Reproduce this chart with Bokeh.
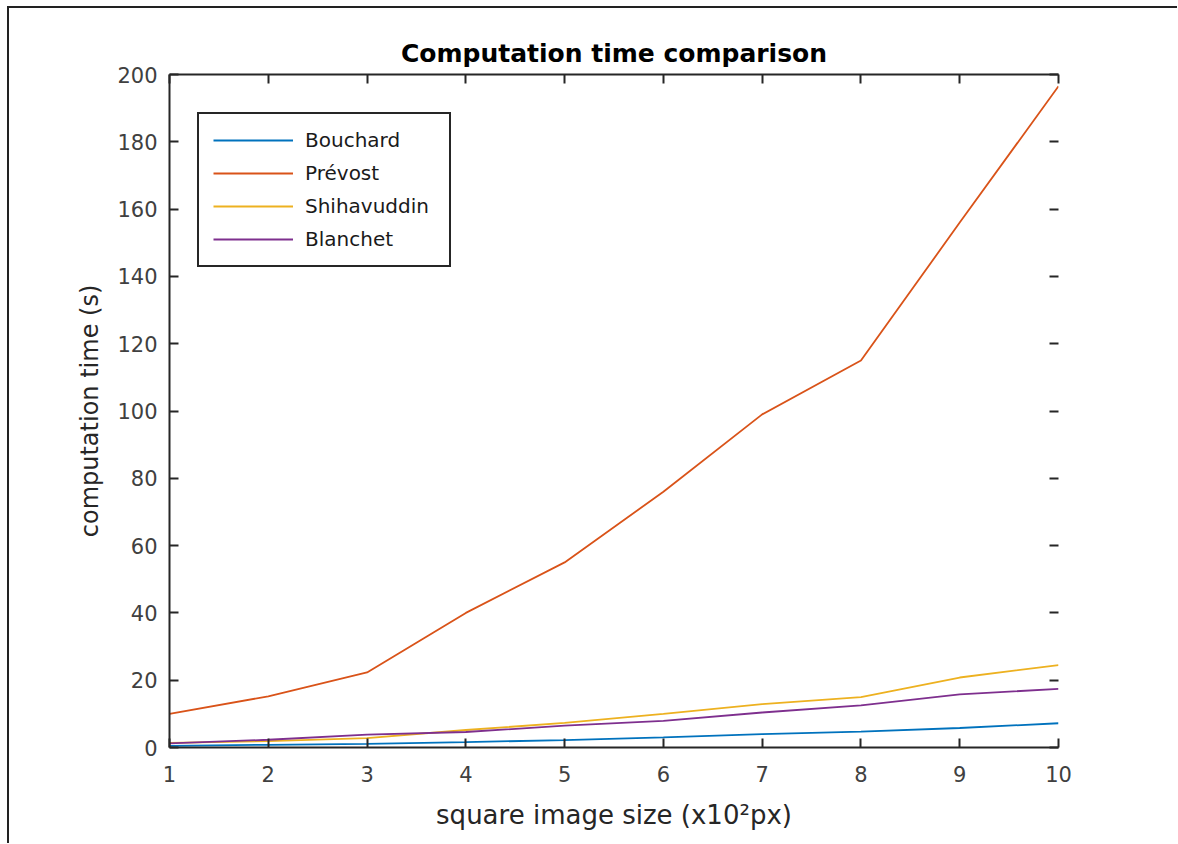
from bokeh.plotting import figure
from bokeh.models import LinearAxis, FixedTicker, Range1d, Legend, LegendItem
from bokeh.embed import file_html
from bokeh.resources import INLINE

# ---- data ----
image_size = [1, 2, 3, 4, 5, 6, 7, 8, 9, 10]
bouchard = [0.5, 0.8, 1.1, 1.6, 2.2, 3.0, 4.0, 4.7, 5.8, 7.2]
prevost = [10.0, 15.2, 22.3, 40.0, 55.0, 76.0, 99.0, 115.0, 156.0, 196.5]
shihavuddin = [1.4, 1.9, 2.8, 5.2, 7.3, 10.0, 12.9, 15.0, 20.8, 24.5]
blanchet = [1.2, 2.3, 3.8, 4.6, 6.5, 7.9, 10.4, 12.5, 15.8, 17.4]
series_names = ["Bouchard", "Prévost", "Shihavuddin", "Blanchet"]
series_colors = ["#0072BD", "#D95319", "#EDB120", "#7E2F8E"]
x_ticks = [1, 2, 3, 4, 5, 6, 7, 8, 9, 10]
y_ticks = [0, 20, 40, 60, 80, 100, 120, 140, 160, 180, 200]

FONT = "DejaVu Sans"
AX = "#262626"

# the figure sits a few px in from the page corner, with a thin left/top border
OFF_X, OFF_Y = 10, 9

p = figure(width=1178 - OFF_X, height=844 - OFF_Y, output_backend="svg", toolbar_location=None,
           x_range=Range1d(1, 10), y_range=Range1d(0, 200),
           x_axis_type=None, y_axis_type=None,
           min_border_left=170 - OFF_X, min_border_right=121,
           min_border_top=75 - OFF_Y, min_border_bottom=98,
           title="Computation time comparison")
p.margin = (6, 0, 0, 7)
p.styles = {"border-left": "2px solid #222222", "border-top": "2px solid #222222",
            "box-sizing": "content-box"}
p.outline_line_color = None
p.xgrid.visible = False
p.ygrid.visible = False
p.background_fill_color = "white"
p.border_fill_color = "white"

p.title.text_font = FONT
p.title.text_font_size = "25px"
p.title.text_font_style = "bold"
p.title.text_color = "#000000"
p.title.align = "center"
p.title.standoff = 13


def style_axis(ax, labels=True):
    ax.axis_line_color = AX
    ax.axis_line_width = 2
    ax.major_tick_line_color = AX
    ax.major_tick_line_width = 2
    ax.major_tick_in = 9
    ax.major_tick_out = 0
    ax.minor_tick_line_color = None
    ax.major_label_text_font = FONT
    ax.major_label_text_font_size = "21px"
    ax.major_label_text_color = "#404040"
    ax.axis_label_text_font = FONT
    ax.axis_label_text_font_style = "normal"
    ax.axis_label_text_color = "#262626"
    if not labels:
        ax.major_label_text_font_size = "0px"
        ax.major_label_text_color = None


xb = LinearAxis(ticker=FixedTicker(ticks=x_ticks), axis_label="square image size (x10²px)")
style_axis(xb)
xb.major_label_standoff = 18
xb.axis_label_standoff = 15
xb.axis_label_text_font_size = "26px"
p.add_layout(xb, "below")

yl = LinearAxis(ticker=FixedTicker(ticks=y_ticks), axis_label="computation time (s)")
style_axis(yl)
yl.major_label_standoff = 12
yl.axis_label_standoff = 10
yl.axis_label_text_font_size = "24px"
p.add_layout(yl, "left")

xt = LinearAxis(ticker=FixedTicker(ticks=x_ticks))
style_axis(xt, labels=False)
p.add_layout(xt, "above")

yr = LinearAxis(ticker=FixedTicker(ticks=y_ticks))
style_axis(yr, labels=False)
yr.axis_line_color = None
p.add_layout(yr, "right")

series = [bouchard, prevost, shihavuddin, blanchet]
items = []
for name, col, ys in zip(series_names, series_colors, series):
    r = p.line(image_size, ys, line_color=col, line_width=1.8)
    items.append(LegendItem(label=name, renderers=[r]))

legend = Legend(items=items, location=(28, 480))
legend.label_text_font = FONT
legend.label_text_font_size = "20px"
legend.label_text_color = "#1a1a1a"
legend.glyph_width = 80
legend.glyph_height = 20
legend.label_height = 20
legend.spacing = 9
legend.padding = 14
legend.margin = 0
legend.label_standoff = 12
legend.label_width = 130
legend.border_line_color = AX
legend.border_line_alpha = 1
legend.border_line_width = 2
legend.background_fill_color = "white"
legend.background_fill_alpha = 1
p.add_layout(legend, "center")

open("out.html", "w").write(file_html(p, INLINE))
